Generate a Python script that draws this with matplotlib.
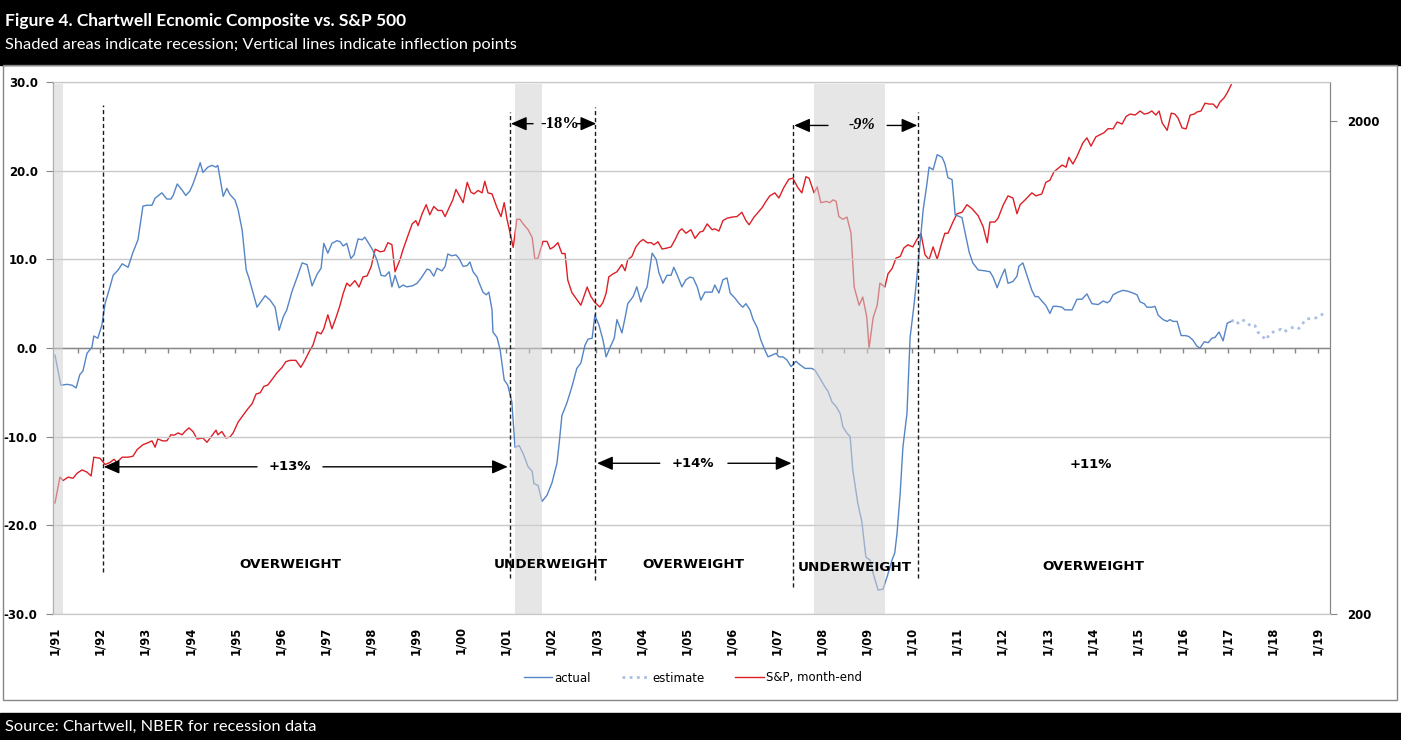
import numpy as np
import matplotlib
matplotlib.use("Agg")
import matplotlib.pyplot as plt
from matplotlib.patches import Rectangle
from matplotlib.lines import Line2D
from matplotlib.ticker import NullLocator, FixedFormatter

# ---- data (decimal years) ----
act_t = [1991.00, 1991.13, 1991.27, 1991.38, 1991.47, 1991.55, 1991.62, 1991.71, 1991.82, 1991.86,
         1991.95, 1992.04, 1992.11, 1992.22, 1992.29, 1992.40, 1992.49, 1992.62, 1992.73, 1992.84,
         1992.95, 1993.04, 1993.15, 1993.22, 1993.37, 1993.48, 1993.57, 1993.62, 1993.71, 1993.82,
         1993.90, 1993.99, 1994.06, 1994.15, 1994.22, 1994.28, 1994.39, 1994.48, 1994.57, 1994.61,
         1994.73, 1994.81, 1994.88, 1994.99, 1995.06, 1995.15, 1995.24, 1995.30, 1995.48, 1995.66,
         1995.77, 1995.88, 1995.97, 1996.06, 1996.14, 1996.25, 1996.37, 1996.48, 1996.59, 1996.70,
         1996.81, 1996.90, 1996.96, 1997.05, 1997.14, 1997.25, 1997.32, 1997.39, 1997.47, 1997.56,
         1997.63, 1997.72, 1997.81, 1997.87, 1997.98, 1998.05, 1998.14, 1998.23, 1998.32, 1998.41,
         1998.47, 1998.54, 1998.63, 1998.72, 1998.80, 1998.92, 1999.03, 1999.12, 1999.25, 1999.31,
         1999.40, 1999.47, 1999.58, 1999.65, 1999.71, 1999.80, 1999.89, 1999.96, 2000.05, 2000.14,
         2000.20, 2000.27, 2000.36, 2000.40, 2000.49, 2000.56, 2000.62, 2000.69, 2000.71, 2000.80,
         2000.87, 2000.93, 2000.96, 2001.04, 2001.13, 2001.20, 2001.29, 2001.38, 2001.49, 2001.58,
         2001.62, 2001.71, 2001.80, 2001.91, 2002.02, 2002.13, 2002.18, 2002.24, 2002.35, 2002.46,
         2002.57, 2002.66, 2002.75, 2002.82, 2002.91, 2002.97, 2003.06, 2003.15, 2003.22, 2003.31,
         2003.40, 2003.46, 2003.57, 2003.64, 2003.70, 2003.82, 2003.90, 2003.99, 2004.06, 2004.13,
         2004.24, 2004.33, 2004.39, 2004.48, 2004.57, 2004.66, 2004.72, 2004.79, 2004.90, 2004.99,
         2005.08, 2005.15, 2005.24, 2005.32, 2005.41, 2005.57, 2005.63, 2005.72, 2005.81, 2005.90,
         2005.97, 2006.08, 2006.17, 2006.25, 2006.32, 2006.41, 2006.48, 2006.57, 2006.65, 2006.72,
         2006.81, 2006.90, 2006.99, 2007.05, 2007.14, 2007.23, 2007.32, 2007.43, 2007.52, 2007.63,
         2007.78, 2007.85, 2007.96, 2008.05, 2008.14, 2008.23, 2008.32, 2008.41, 2008.47, 2008.56,
         2008.63, 2008.69, 2008.80, 2008.89, 2008.98, 2009.07, 2009.14, 2009.25, 2009.36, 2009.45,
         2009.56, 2009.62, 2009.67, 2009.74, 2009.80, 2009.89, 2009.94, 2009.96, 2010.05, 2010.11,
         2010.18, 2010.25, 2010.33, 2010.38, 2010.47, 2010.56, 2010.67, 2010.73, 2010.80, 2010.89,
         2010.96, 2011.02, 2011.11, 2011.18, 2011.27, 2011.35, 2011.47, 2011.62, 2011.73, 2011.80,
         2011.89, 2011.98, 2012.06, 2012.13, 2012.24, 2012.33, 2012.37, 2012.46, 2012.55, 2012.66,
         2012.73, 2012.80, 2012.88, 2012.97, 2013.06, 2013.13, 2013.22, 2013.33, 2013.39, 2013.55,
         2013.66, 2013.77, 2013.88, 2013.99, 2014.13, 2014.24, 2014.33, 2014.39, 2014.46, 2014.57,
         2014.68, 2014.79, 2014.90, 2014.99, 2015.06, 2015.15, 2015.21, 2015.32, 2015.39, 2015.46,
         2015.57, 2015.66, 2015.72, 2015.79, 2015.88, 2015.97, 2016.06, 2016.14, 2016.23, 2016.32,
         2016.39, 2016.48, 2016.57, 2016.65, 2016.72, 2016.81, 2016.90, 2016.99, 2017.08]
act_v = [-0.8, -4.2, -4.1, -4.2, -4.5, -3.0, -2.6, -0.6, 0.1, 1.35,
         1.1, 2.6, 5.0, 6.9, 8.2, 8.8, 9.5, 9.1, 10.8, 12.2,
         16.0, 16.1, 16.1, 16.9, 17.5, 16.8, 16.8, 17.2, 18.5, 17.8,
         17.2, 17.7, 18.5, 19.8, 20.9, 19.8, 20.4, 20.6, 20.4, 20.6,
         17.1, 18.0, 17.3, 16.7, 15.6, 13.3, 8.8, 7.9, 4.6, 5.9,
         5.4, 4.6, 2.0, 3.5, 4.3, 6.3, 8.0, 9.6, 9.4, 7.0,
         8.3, 9.0, 11.8, 10.7, 11.8, 12.1, 12.0, 11.5, 11.8, 10.1,
         10.5, 12.3, 12.2, 12.5, 11.6, 11.0, 9.9, 8.2, 8.1, 8.6,
         6.9, 8.2, 6.8, 7.1, 6.9, 7.0, 7.3, 7.9, 8.9, 8.8,
         8.1, 9.0, 8.7, 9.2, 10.6, 10.4, 10.5, 10.1, 9.2, 9.3,
         9.7, 8.6, 8.0, 7.4, 6.3, 6.0, 6.3, 4.3, 1.8, 1.2,
         -0.2, -2.5, -3.6, -4.2, -6.1, -11.2, -11.0, -11.9, -13.4, -13.9,
         -15.3, -15.5, -17.3, -16.6, -15.2, -13.0, -10.7, -7.6, -6.2, -4.4,
         -2.3, -1.7, 0.3, 1.0, 1.1, 3.7, 2.6, 0.9, -1.0, 0.1,
         1.1, 3.2, 1.7, 3.4, 5.0, 5.8, 6.9, 5.2, 6.2, 6.9,
         10.7, 10.0, 8.5, 7.3, 8.2, 8.2, 9.1, 8.3, 6.9, 7.7,
         8.0, 7.9, 6.9, 5.4, 6.3, 6.3, 7.1, 6.2, 7.7, 7.9,
         6.2, 5.6, 5.0, 4.6, 5.0, 4.3, 3.2, 2.3, 0.9, 0.0,
         -1.0, -0.8, -0.6, -1.0, -1.0, -1.35, -2.1, -1.5, -1.9, -2.3,
         -2.3, -2.5, -3.4, -4.2, -4.9, -6.1, -6.6, -7.4, -8.9, -9.6,
         -10.0, -13.8, -17.5, -19.6, -23.6, -23.9, -25.4, -27.3, -27.2, -25.8,
         -23.9, -23.1, -20.9, -16.4, -11.2, -7.4, -1.35, 1.2, 5.0, 8.0,
         11.8, 15.6, 18.4, 20.4, 20.1, 21.8, 21.5, 20.8, 19.2, 19.0,
         15.0, 14.9, 14.7, 13.0, 10.8, 9.6, 8.8, 8.7, 8.6, 8.0,
         6.8, 8.0, 8.9, 7.3, 7.5, 8.1, 9.2, 9.6, 8.2, 6.5,
         5.8, 5.8, 5.3, 4.8, 3.9, 4.7, 4.7, 4.6, 4.3, 4.3,
         5.5, 5.5, 6.1, 5.0, 4.9, 5.3, 5.1, 5.3, 6.0, 6.3,
         6.5, 6.4, 6.2, 6.0, 5.2, 5.0, 4.6, 4.6, 4.7, 3.7,
         3.2, 3.0, 3.2, 3.0, 3.0, 1.4, 1.4, 1.3, 0.9, 0.2,
         0.0, 0.7, 0.6, 1.1, 1.2, 1.8, 0.8, 2.8, 3.0]

est_t = [2017.08, 2017.16, 2017.23, 2017.32, 2017.43, 2017.52, 2017.61, 2017.67, 2017.76, 2017.85,
         2017.92, 2018.01, 2018.10, 2018.18, 2018.25, 2018.34, 2018.43, 2018.52, 2018.58, 2018.67,
         2018.76, 2018.87, 2018.96, 2019.03, 2019.12, 2019.20]
est_v = [3.0, 3.2, 2.8, 3.2, 2.9, 2.4, 2.5, 1.8, 1.4, 0.9,
         1.5, 1.8, 2.0, 2.1, 1.8, 2.1, 2.3, 2.4, 2.2, 2.8,
         3.3, 3.3, 3.4, 3.7, 3.8, 3.8]

sp_t = [1991.00, 1991.11, 1991.18, 1991.29, 1991.40, 1991.49, 1991.60, 1991.71, 1991.80, 1991.86,
        1992.00, 1992.11, 1992.22, 1992.31, 1992.37, 1992.49, 1992.62, 1992.73, 1992.82, 1992.95,
        1993.06, 1993.15, 1993.22, 1993.28, 1993.39, 1993.48, 1993.57, 1993.64, 1993.73, 1993.82,
        1993.88, 1993.97, 1994.06, 1994.15, 1994.28, 1994.37, 1994.48, 1994.57, 1994.61, 1994.70,
        1994.79, 1994.88, 1994.95, 1995.06, 1995.17, 1995.28, 1995.37, 1995.46, 1995.55, 1995.63,
        1995.72, 1995.83, 1995.92, 1996.03, 1996.12, 1996.21, 1996.34, 1996.45, 1996.54, 1996.65,
        1996.72, 1996.81, 1996.90, 1996.96, 1997.05, 1997.14, 1997.23, 1997.32, 1997.39, 1997.47,
        1997.54, 1997.65, 1997.74, 1997.83, 1997.92, 1998.01, 1998.10, 1998.21, 1998.30, 1998.38,
        1998.47, 1998.54, 1998.65, 1998.72, 1998.83, 1998.92, 1999.00, 1999.05, 1999.14, 1999.23,
        1999.31, 1999.40, 1999.49, 1999.58, 1999.65, 1999.74, 1999.82, 1999.89, 1999.98, 2000.05,
        2000.14, 2000.22, 2000.29, 2000.38, 2000.47, 2000.53, 2000.60, 2000.69, 2000.80, 2000.89,
        2000.96, 2001.02, 2001.09, 2001.16, 2001.24, 2001.31, 2001.38, 2001.49, 2001.58, 2001.64,
        2001.71, 2001.82, 2001.91, 2001.98, 2002.06, 2002.15, 2002.24, 2002.31, 2002.37, 2002.46,
        2002.55, 2002.66, 2002.80, 2002.88, 2002.97, 2003.08, 2003.15, 2003.22, 2003.28, 2003.37,
        2003.46, 2003.57, 2003.64, 2003.70, 2003.79, 2003.88, 2003.97, 2004.04, 2004.13, 2004.22,
        2004.28, 2004.37, 2004.46, 2004.57, 2004.66, 2004.75, 2004.84, 2004.90, 2004.99, 2005.10,
        2005.19, 2005.30, 2005.37, 2005.46, 2005.57, 2005.63, 2005.72, 2005.81, 2005.90, 2006.01,
        2006.12, 2006.23, 2006.32, 2006.39, 2006.50, 2006.59, 2006.68, 2006.77, 2006.85, 2006.96,
        2007.05, 2007.16, 2007.27, 2007.36, 2007.47, 2007.56, 2007.65, 2007.72, 2007.83, 2007.90,
        2007.98, 2008.10, 2008.18, 2008.25, 2008.32, 2008.38, 2008.47, 2008.56, 2008.65, 2008.72,
        2008.83, 2008.91, 2009.00, 2009.05, 2009.14, 2009.23, 2009.29, 2009.40, 2009.47, 2009.56,
        2009.65, 2009.74, 2009.82, 2009.91, 2010.02, 2010.11, 2010.20, 2010.29, 2010.38, 2010.47,
        2010.56, 2010.65, 2010.73, 2010.80, 2010.91, 2011.00, 2011.11, 2011.22, 2011.33, 2011.47,
        2011.58, 2011.67, 2011.73, 2011.84, 2011.91, 2012.02, 2012.13, 2012.24, 2012.33, 2012.40,
        2012.51, 2012.66, 2012.75, 2012.88, 2012.97, 2013.06, 2013.15, 2013.24, 2013.33, 2013.42,
        2013.48, 2013.57, 2013.66, 2013.75, 2013.79, 2013.88, 2013.97, 2014.08, 2014.17, 2014.26,
        2014.35, 2014.46, 2014.55, 2014.66, 2014.75, 2014.84, 2014.95, 2015.06, 2015.15, 2015.24,
        2015.32, 2015.41, 2015.48, 2015.55, 2015.66, 2015.75, 2015.83, 2015.90, 2015.99, 2016.08,
        2016.17, 2016.26, 2016.32, 2016.41, 2016.50, 2016.59, 2016.68, 2016.76, 2016.83, 2016.92,
        2016.99, 2017.08]
sp_v = [336, 379, 373, 379, 377, 386, 392, 388, 381, 416,
        414, 402, 406, 412, 406, 416, 416, 418, 431, 441,
        445, 449, 436, 453, 449, 449, 462, 461, 466, 462,
        469, 477, 469, 453, 455, 446, 460, 472, 462, 469,
        455, 457, 466, 490, 506, 522, 534, 559, 562, 579,
        583, 601, 617, 632, 650, 654, 654, 633, 654, 685,
        702, 747, 740, 758, 809, 758, 798, 846, 894, 938,
        925, 949, 921, 966, 970, 1013, 1099, 1086, 1090, 1133,
        1123, 989, 1047, 1099, 1174, 1237, 1256, 1227, 1297, 1353,
        1291, 1342, 1317, 1317, 1280, 1335, 1384, 1453, 1403, 1366,
        1502, 1435, 1423, 1446, 1430, 1509, 1430, 1423, 1335, 1280,
        1366, 1268, 1184, 1108, 1264, 1264, 1237, 1204, 1161, 1049,
        1055, 1140, 1140, 1100, 1111, 1133, 1077, 1077, 951, 898,
        874, 846, 921, 882, 857, 839, 857, 895, 966, 979,
        989, 1023, 994, 1047, 1062, 1111, 1138, 1150, 1133, 1133,
        1122, 1138, 1100, 1105, 1111, 1150, 1196, 1209, 1184, 1204,
        1156, 1191, 1196, 1237, 1204, 1209, 1196, 1256, 1270, 1277,
        1280, 1306, 1256, 1232, 1277, 1306, 1335, 1377, 1410, 1430,
        1396, 1466, 1524, 1531, 1466, 1430, 1542, 1531, 1430, 1470,
        1366, 1374, 1366, 1384, 1374, 1280, 1264, 1277, 1184, 921,
        846, 879, 800, 692, 798, 846, 938, 921, 980, 1004,
        1055, 1062, 1105, 1122, 1111, 1150, 1184, 1071, 1047, 1111,
        1049, 1122, 1184, 1184, 1248, 1297, 1306, 1353, 1329, 1285,
        1220, 1133, 1248, 1248, 1270, 1348, 1410, 1396, 1297, 1353,
        1384, 1430, 1410, 1423, 1502, 1517, 1578, 1603, 1628, 1612,
        1688, 1636, 1696, 1771, 1805, 1849, 1779, 1858, 1876, 1894,
        1930, 1928, 1991, 1972, 2044, 2066, 2057, 2096, 2066, 2075,
        2096, 2057, 2096, 1982, 1915, 2075, 2066, 2028, 1937, 1928,
        2057, 2066, 2086, 2096, 2174, 2165, 2165, 2125, 2185, 2228,
        2280, 2370]

recessions = [(1990.96, 1991.18), (2001.20, 2001.80), (2007.83, 2009.40)]
inflections = [1992.06, 2001.09, 2002.97, 2007.36, 2010.14]
year_labels = ["1/%02d" % (y % 100) for y in range(1991, 2020)]

BLUE = "#5585C5"
EST = "#A9C0E2"
RED = "#DD1F26"
GRID = "#C8C8C8"
AXC = "#878787"

fig = plt.figure(figsize=(14.01, 7.40), dpi=100)
W, H = 1401, 740


def fx(px):
    return px / W


def fy(py):
    return 1 - py / H


# header / footer / frame
fig.add_artist(Rectangle((0, fy(65)), 1, 65 / H, transform=fig.transFigure, color="black", zorder=0))
fig.add_artist(Rectangle((0, 0), 1, 27 / H, transform=fig.transFigure, color="black", zorder=0))
fig.add_artist(Rectangle((fx(3), fy(700)), 1394 / W, 635 / H, transform=fig.transFigure,
                         fill=False, edgecolor=AXC, lw=1, zorder=0))
fig.text(fx(5), fy(21), "Figure 4. Chartwell Ecnomic Composite vs. S&P 500", color="white",
         fontsize=12.5, fontweight="bold", family="Lato", va="center")
fig.text(fx(5), fy(45), "Shaded areas indicate recession; Vertical lines indicate inflection points",
         color="white", fontsize=11.8, family="Lato", va="center")
fig.text(fx(5), fy(727), "Source: Chartwell, NBER for recession data", color="white",
         fontsize=11.8, family="Lato", va="center")

ax = fig.add_axes([fx(53), fy(614), (1330 - 53) / W, (614 - 82) / H])
ax2 = ax.twinx()
ax.set_zorder(ax2.get_zorder() + 1)
ax.patch.set_visible(False)

# S&P on right log axis
ax2.plot(sp_t, sp_v, color=RED, lw=1.0)
ax2.set_yscale("log")
ax2.set_ylim(200, 2400)
ax2.set_yticks([200, 2000])
ax2.yaxis.set_minor_locator(NullLocator())
ax2.yaxis.set_major_formatter(FixedFormatter(["200", "2000"]))
ax2.tick_params(axis="y", length=5, color=AXC, pad=7, labelsize=8.5)
for lab in ax2.get_yticklabels():
    lab.set_fontweight("bold")

# composite on left axis
ax.plot(act_t, act_v, color=BLUE, lw=1.0, zorder=3)
ax.plot(est_t, est_v, color=EST, lw=2.0, linestyle=(0, (1, 1.6)), zorder=3)
ax.set_xlim(1990.956, 2019.27)
ax.set_ylim(-30, 30)
ax.set_yticks(np.arange(-30, 31, 10))
ax.set_yticklabels(["%.1f" % v for v in np.arange(-30, 31, 10)], fontweight="bold", fontsize=8.5)
ax.yaxis.grid(True, color=GRID, lw=1)
ax.set_axisbelow(True)
ax.tick_params(axis="y", length=5, color=AXC, pad=6)
ax.set_xticks(np.arange(1991, 2020))
ax.set_xticklabels(year_labels, rotation=90, fontweight="bold", fontsize=8.3)
ax.tick_params(axis="x", length=0, pad=9)

for a in (ax, ax2):
    a.spines["top"].set_color(GRID)
    a.spines["bottom"].set_color(GRID)
    a.spines["left"].set_color(AXC)
    a.spines["right"].set_color(AXC)

# zero axis with half-year tick marks
ax.axhline(0, color=AXC, lw=1, zorder=2)
ax.vlines(np.arange(1991.5, 2019.1, 0.5), -0.6, 0, color=AXC, lw=1, zorder=2)

# recession shading drawn over the lines (fades them)
for s, e in recessions:
    ax.axvspan(s, e, ymin=0, ymax=0.996, color="#D2D2D2", alpha=0.55, lw=0, zorder=4)

# inflection lines
inf_y = [(27.4, -25.3), (26.6, -25.9), (27.2, -26.2), (25.5, -26.9), (26.6, -25.9)]
for t, (y1, y2) in zip(inflections, inf_y):
    ax.plot([t, t], [y2, y1], color="#1a1a1a", lw=1, linestyle=(0, (3, 2)), zorder=5)


def arrow(x0, x1, y):
    ax.annotate("", xy=(x1, y), xytext=(x0, y), zorder=6,
                arrowprops=dict(arrowstyle="-|>,head_length=0.8,head_width=0.35", color="black",
                                lw=1, shrinkA=0, shrinkB=0, mutation_scale=12))


arrow(1995.48, 1992.08, -13.4)
arrow(1996.94, 2001.04, -13.4)
arrow(2004.41, 2003.02, -13.0)
arrow(2005.92, 2007.33, -13.0)
arrow(2001.60, 2001.11, 25.3)
arrow(2002.57, 2003.00, 25.3)
arrow(2008.14, 2007.39, 25.1)
arrow(2009.45, 2010.12, 25.1)

pct = dict(fontsize=9.5, fontweight="bold", ha="center", va="center", zorder=6)
ax.text(1996.21, -13.4, "+13%", **pct)
ax.text(2005.15, -13.0, "+14%", **pct)
ax.text(2013.97, -13.1, "+11%", **pct)
ax.text(2002.20, 25.3, "-18%", fontsize=12, fontweight="bold", family="Liberation Serif",
        ha="center", va="center", zorder=6)
ax.text(2008.89, 25.1, "-9%", fontsize=11.5, fontweight="bold", style="italic",
        family="Liberation Serif", ha="center", va="center", zorder=6)

wt = dict(fontsize=9.7, fontweight="bold", ha="center", va="center", zorder=6)
ax.text(1996.21, -24.4, "OVERWEIGHT", **wt)
ax.text(2002.00, -24.4, "UNDERWEIGHT", **wt)
ax.text(2005.15, -24.4, "OVERWEIGHT", **wt)
ax.text(2008.74, -24.7, "UNDERWEIGHT", **wt)
ax.text(2014.02, -24.6, "OVERWEIGHT", **wt)

handles = [Line2D([], [], color=BLUE, lw=1.0),
           Line2D([], [], color=EST, lw=2.0, linestyle=(0, (1, 1.6))),
           Line2D([], [], color=RED, lw=1.0)]
fig.legend(handles, ["actual", "estimate", "S&P, month-end"], loc="center",
           bbox_to_anchor=(fx(693), fy(678)), ncol=3, frameon=False, fontsize=8.5,
           handlelength=2.4, handletextpad=0.2, columnspacing=2.6)

fig.savefig("out.png", dpi=100)
